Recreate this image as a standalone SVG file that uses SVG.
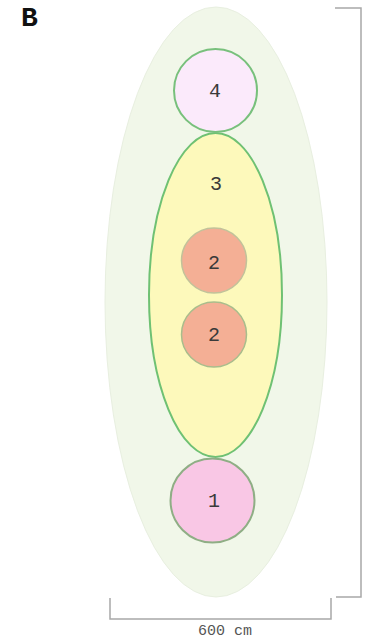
<svg xmlns="http://www.w3.org/2000/svg" width="369" height="644" viewBox="0 0 369 644">
<style>
.lbl{font-family:"Liberation Mono","Courier New",monospace;font-size:20px;fill:#3a3a3a;text-anchor:middle}
.dim{fill:none;stroke:#a8a8a8;stroke-width:1.5}
</style>
<rect width="369" height="644" fill="#fff"/>
<text x="21" y="26" font-family="'Liberation Mono', 'Courier New', monospace" font-weight="bold" font-size="28" fill="#111">B</text>
<g id="outer"><ellipse cx="216" cy="302" rx="111" ry="295" fill="#f1f7e9" stroke="#e8efe0" stroke-width="1"/></g>
<g id="node3"><ellipse cx="215.5" cy="295" rx="66.5" ry="162" fill="#fdf9bb" stroke="#6fc173" stroke-width="2"/><text class="lbl" x="216" y="190">3</text></g>
<g id="node4"><circle cx="215.5" cy="90.5" r="41.5" fill="#fbeafb" stroke="#78c07c" stroke-width="2"/><text class="lbl" x="215" y="97">4</text></g>
<g id="node2a"><circle cx="214" cy="260.5" r="32.5" fill="#f4af95" stroke="#c2c29a" stroke-width="1.5"/><text class="lbl" x="214" y="269">2</text></g>
<g id="node2b"><circle cx="214" cy="334.5" r="32.5" fill="#f4af95" stroke="#a9bd8c" stroke-width="1.5"/><text class="lbl" x="214" y="341">2</text></g>
<g id="node1"><circle cx="212.5" cy="500.5" r="42" fill="#f9c7e5" stroke="#8fae85" stroke-width="2"/><text class="lbl" x="214" y="507">1</text></g>
<g id="connectors">
<path class="dim" d="M335 8 H361 V597 H336"/>
<path class="dim" d="M110 598 V619 H331 V598"/>
<text x="225" y="635" font-family="'Liberation Mono', 'Courier New', monospace" font-size="15" fill="#555" text-anchor="middle">600 cm</text>
</g>
</svg>
